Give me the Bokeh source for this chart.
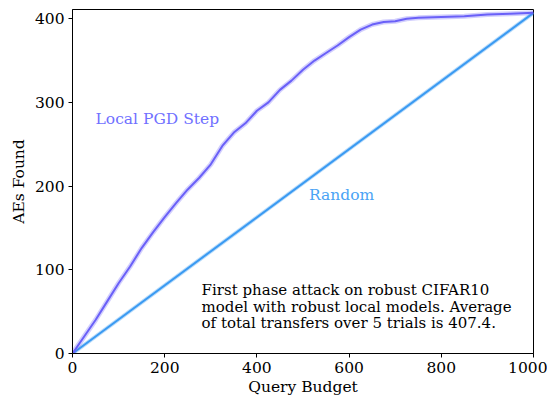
from bokeh.plotting import figure
from bokeh.models import Range1d, FixedTicker
from bokeh.core.properties import value
from bokeh.embed import file_html
from bokeh.resources import INLINE

budget = [0, 25, 50, 75, 100, 125, 150, 175, 200, 225, 250, 275, 300, 325, 350,
          375, 400, 425, 450, 475, 500, 525, 550, 575, 600, 625, 650, 675, 700,
          725, 750, 800, 850, 900, 950, 1000]
pgd_found = [0, 20, 40, 62, 84, 104, 126, 145, 163, 180, 196, 210, 226, 248, 264,
             275, 290, 300, 315, 326, 339, 350, 359, 368, 378, 387, 393, 396, 397,
             400, 401, 402, 403, 405, 406, 407]
random_budget = [0, 1000]
random_found = [0, 407]
x_ticks = [0, 200, 400, 600, 800, 1000]
y_ticks = [0, 100, 200, 300, 400]
note_lines = ["First phase attack on robust CIFAR10",
              "model with robust local models. Average",
              "of total transfers over 5 trials is 407.4."]
note_y = [76, 56, 36]

FONT = "DejaVu Serif"
FS = "15.5px"
PGD_C = "#6a60f8"
RND_C = "#3a9af2"

p = figure(width=547, height=398, output_backend="svg", toolbar_location=None,
           x_range=Range1d(0, 1000), y_range=Range1d(0, 411),
           min_border_left=72, min_border_right=14, min_border_top=9, min_border_bottom=45)
p.outline_line_color = "black"
p.outline_line_width = 1
p.xgrid.visible = False
p.ygrid.visible = False

# halos (spread over trials)
p.line(random_budget, random_found, color=RND_C, line_width=4, alpha=0.35)
p.line(random_budget, random_found, color=RND_C, line_width=2)
p.line(budget, pgd_found, color=PGD_C, line_width=5, alpha=0.3)
p.line(budget, pgd_found, color=PGD_C, line_width=2)

p.text(x=[50], y=[280], text=["Local PGD Step"], text_color="#7070ff",
       text_font=value(FONT), text_font_size=FS, text_baseline="middle")
p.text(x=[513], y=[189], text=["Random"], text_color="#4aa3f5",
       text_font=value(FONT), text_font_size=FS, text_baseline="middle")
p.text(x=[280] * 3, y=note_y, text=note_lines, text_color="black",
       text_font=value(FONT), text_font_size="15px", text_baseline="middle")

for ax in (p.xaxis[0], p.yaxis[0]):
    ax.major_label_text_font = FONT
    ax.major_label_text_font_size = FS
    ax.major_label_text_color = "black"
    ax.axis_label_text_font = FONT
    ax.axis_label_text_font_size = FS
    ax.axis_label_text_font_style = "normal"
    ax.axis_label_text_color = "black"
    ax.minor_tick_line_color = None
    ax.major_tick_out = 4
    ax.major_tick_in = 0
    ax.axis_line_color = "black"
    ax.major_tick_line_color = "black"
p.xaxis.ticker = FixedTicker(ticks=x_ticks)
p.yaxis.ticker = FixedTicker(ticks=y_ticks)
p.xaxis.axis_label = "Query Budget"
p.yaxis.axis_label = "AEs Found"
p.xaxis.major_label_standoff = 4
p.yaxis.major_label_standoff = 4
p.xaxis.axis_label_standoff = 2
p.yaxis.axis_label_standoff = 4

open("out.html", "w").write(file_html(p, INLINE))
